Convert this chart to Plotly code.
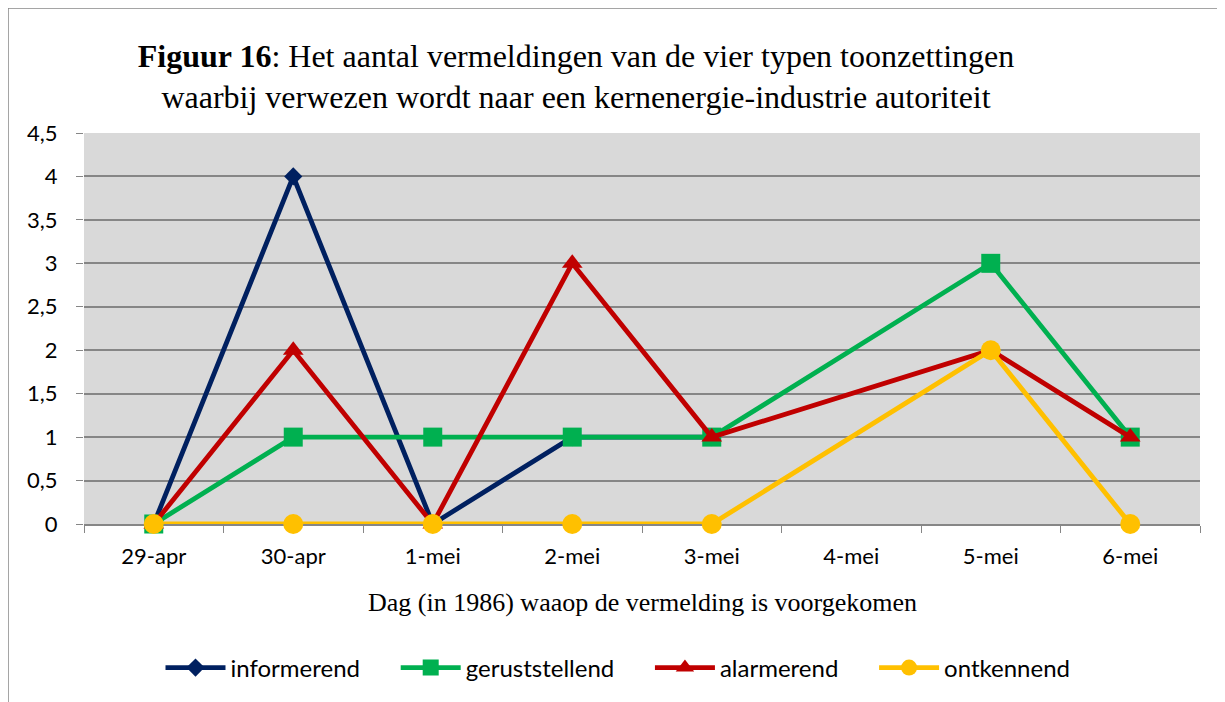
import plotly.graph_objects as go

categories = ["29-apr", "30-apr", "1-mei", "2-mei", "3-mei", "4-mei", "5-mei", "6-mei"]
informerend = [0, 4, 0, 1, 1, None, None, None]
geruststellend = [0, 1, 1, 1, 1, None, 3, 1]
alarmerend = [0, 2, 0, 3, 1, None, 2, 1]
ontkennend = [0, 0, 0, 0, 0, None, 2, 0]
y_tickvals = [0, 0.5, 1, 1.5, 2, 2.5, 3, 3.5, 4, 4.5]
y_ticktext = ["0", "0,5", "1", "1,5", "2", "2,5", "3", "3,5", "4", "4,5"]

series = [
    ("informerend", informerend, "#002060", "diamond", 14),
    ("geruststellend", geruststellend, "#00B050", "square", 19),
    ("alarmerend", alarmerend, "#C00000", "triangle-up", 18),
    ("ontkennend", ontkennend, "#FFC000", "circle", 20),
]

# body margin of 8px offsets the figure inside the page
OFF = 8
W, H = 1225, 702
L, R, T, B = 84 - OFF, W - (1200 - OFF), 133 - OFF, H - (524 - OFF)
PW, PH = W - L - R, H - T - B

fig = go.Figure()
for i, (name, vals, color, sym, sz) in enumerate(series):
    pad = "&nbsp;" * 5 if i < len(series) - 1 else ""
    fig.add_trace(go.Scatter(
        x=categories, y=vals, name=name + pad, mode="lines+markers",
        connectgaps=True, cliponaxis=False,
        line=dict(color=color, width=4.8),
        marker=dict(color=color, symbol=sym, size=sz),
    ))

fig.update_layout(
    width=W, height=H,
    margin=dict(l=L, r=R, t=T, b=B),
    paper_bgcolor="white",
    plot_bgcolor="#D9D9D9",
    title=dict(
        text="<b>Figuur 16</b>: Het aantal vermeldingen van de vier typen toonzettingen<br>waarbij verwezen wordt naar een kernenergie-industrie autoriteit",
        font=dict(family="Liberation Serif", size=32, color="black"),
        x=(576 - OFF) / W, xanchor="center", y=1 - (66.5 - OFF) / H, yanchor="middle",
    ),
    showlegend=True,
    legend=dict(
        orientation="h", x=(618 - OFF - L) / PW, xanchor="center",
        y=((524 - OFF) - (668 - OFF)) / PH, yanchor="middle",
        font=dict(family="Lato", size=24, color="black"),
        traceorder="normal", itemwidth=60,
    ),
    annotations=[dict(
        text="Dag (in 1986) waaop de vermelding is voorgekomen",
        xref="paper", yref="paper", x=(642 - OFF - L) / PW, y=((524 - OFF) - (602 - OFF)) / PH,
        xanchor="center", yanchor="middle", showarrow=False,
        font=dict(family="Liberation Serif", size=26, color="black"),
    )],
    shapes=[dict(type="rect", xref="paper", yref="paper",
                 x0=(8 - 84) / PW, x1=1.05, y0=-0.8, y1=(524 - 8) / PH,
                 line=dict(color="#888888", width=1.5), layer="below")],
)

fig.update_xaxes(
    type="category", range=[-0.5, 7.5], layer="below traces",
    showgrid=False, showline=True, linecolor="#868686", linewidth=2,
    ticks="outside", tickson="boundaries", ticklen=7, tickcolor="#868686",
    ticklabelstandoff=12,
    tickfont=dict(family="Lato", size=22, color="black"),
)
fig.update_yaxes(
    range=[0, 4.5], tickvals=y_tickvals, ticktext=y_ticktext, layer="below traces",
    showgrid=True, gridcolor="#868686", gridwidth=2,
    zeroline=False, showline=False, ticks="outside", ticklen=7, tickcolor="#868686",
    ticklabelstandoff=14,
    tickfont=dict(family="Lato", size=22, color="black"),
)

fig.write_html("out.html")
